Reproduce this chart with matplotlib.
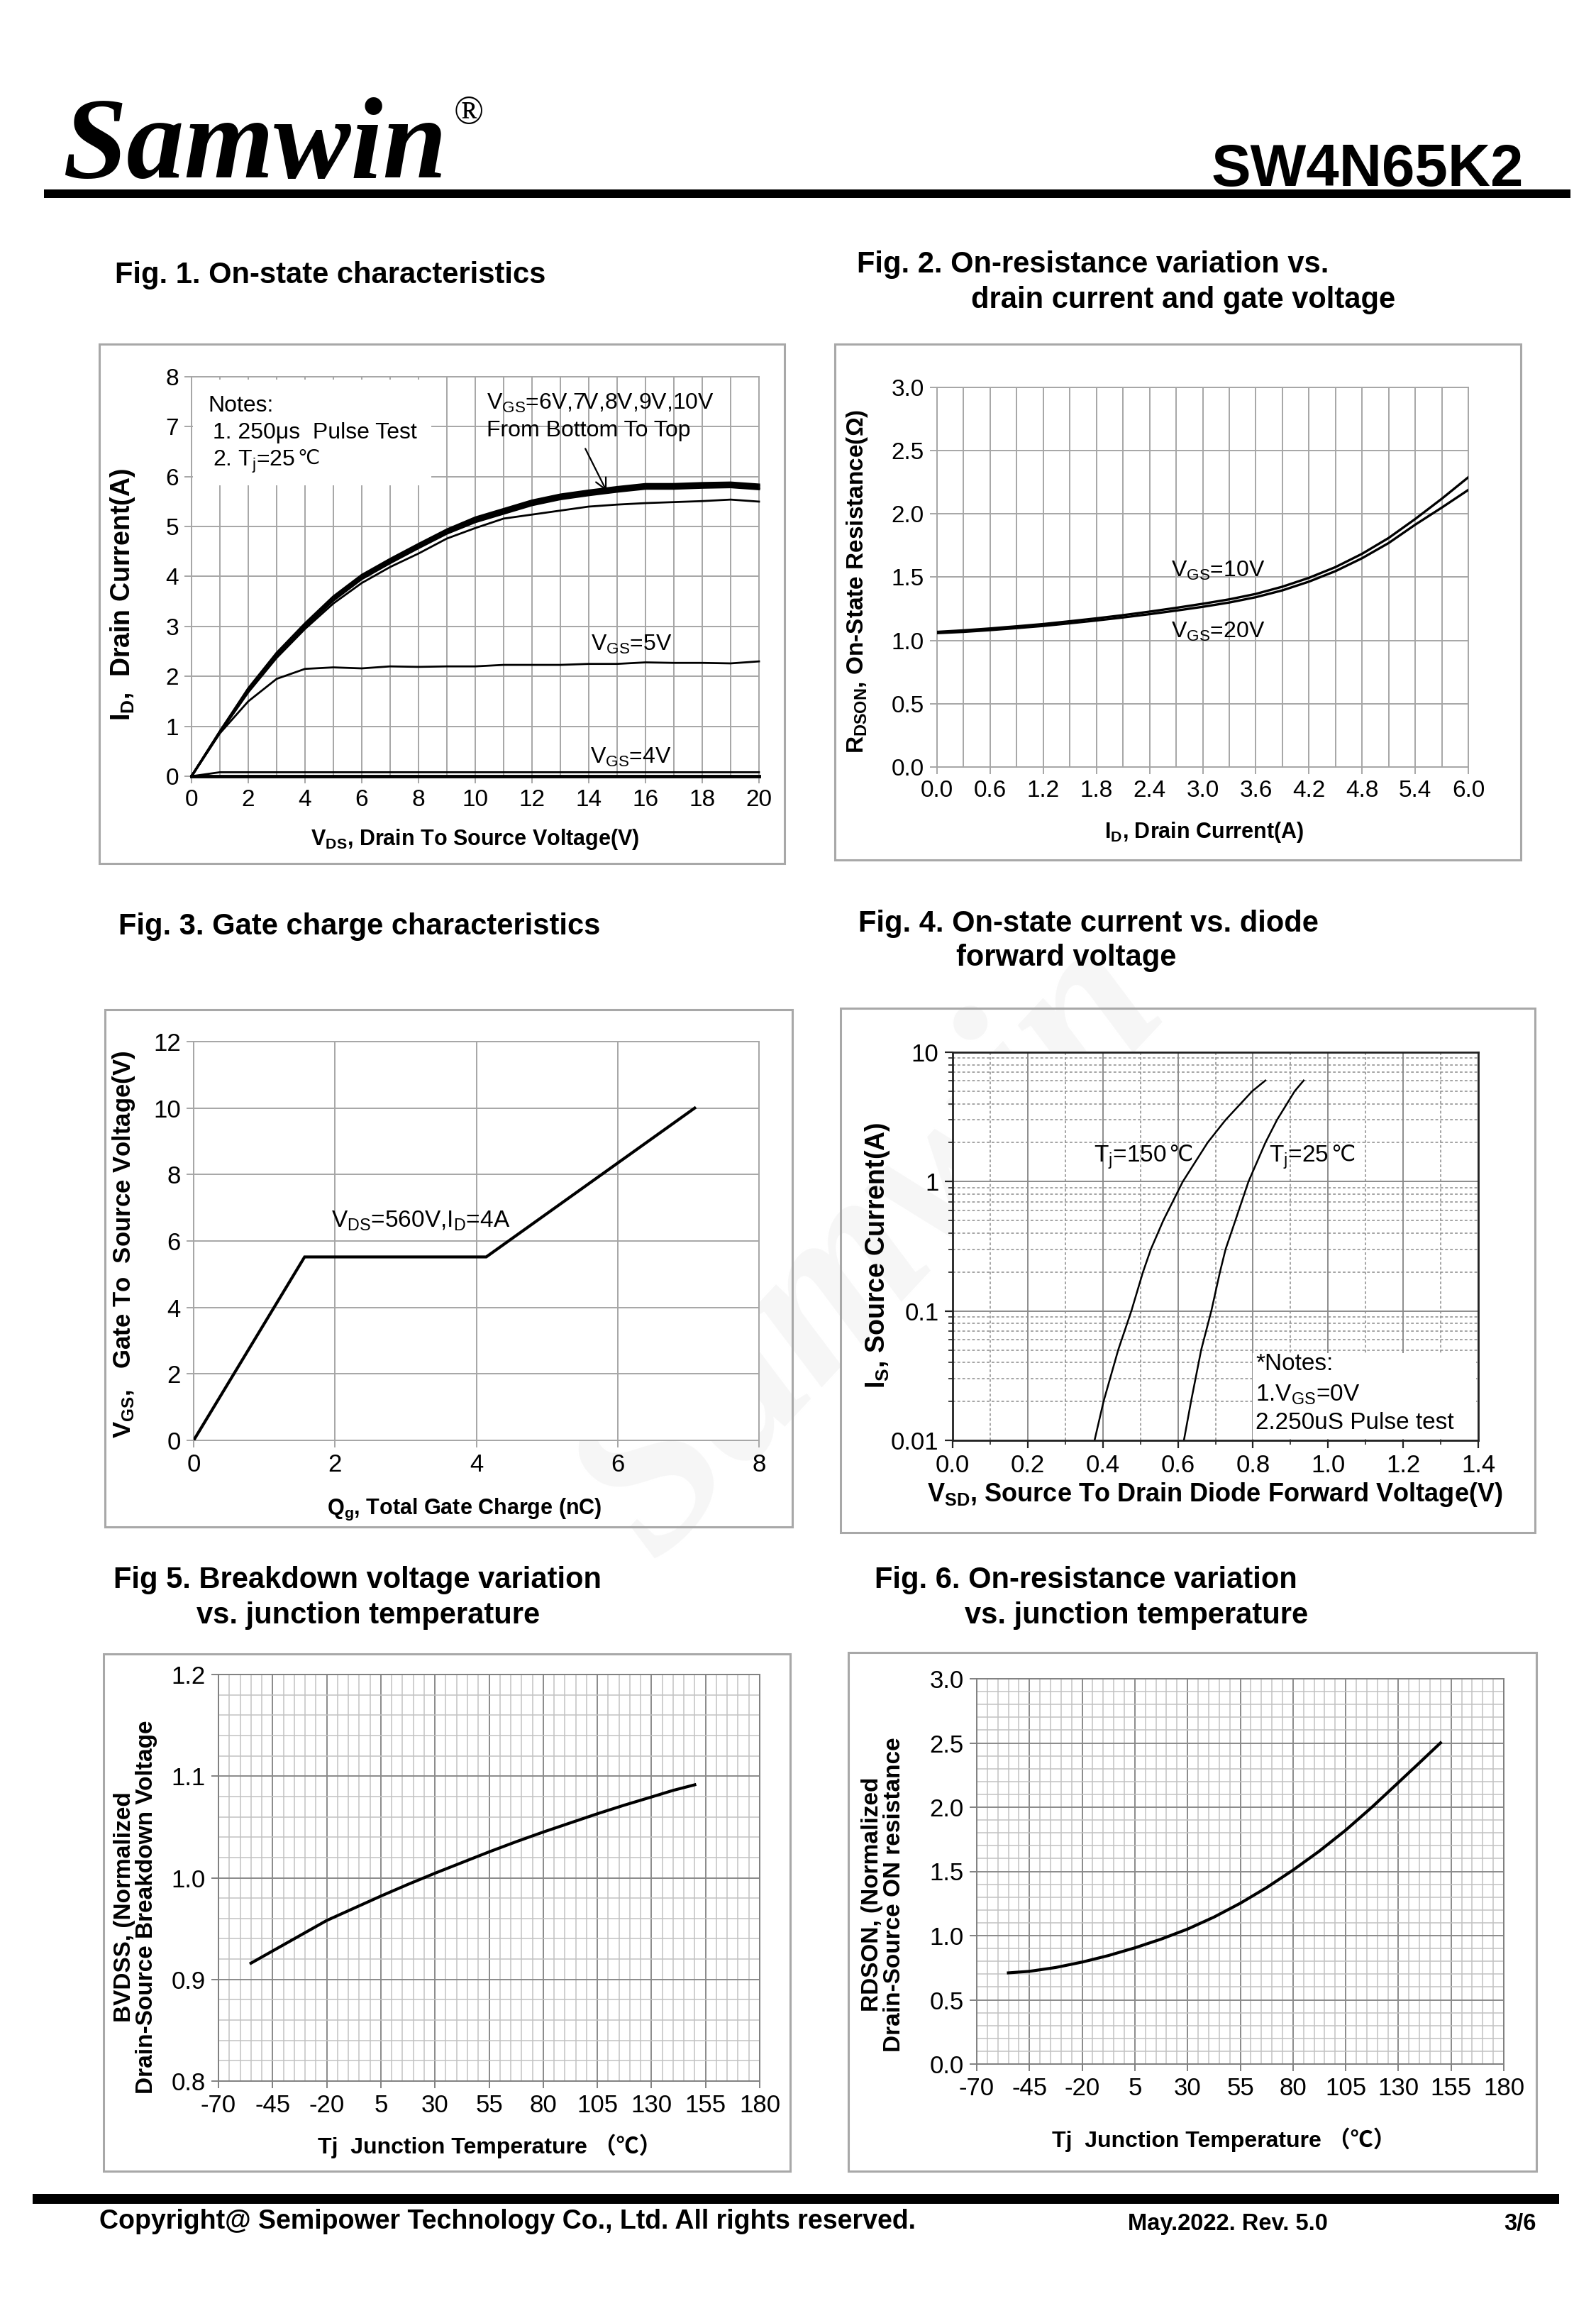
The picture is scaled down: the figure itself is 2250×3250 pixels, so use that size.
import matplotlib
matplotlib.use("Agg")
import matplotlib.pyplot as plt
from matplotlib.patches import Rectangle
from matplotlib.ticker import (MultipleLocator, FixedLocator, FixedFormatter,
                               FormatStrFormatter, LogLocator, NullFormatter)

# ------------------------------------------------------------------ data
# Fig. 1  On-state characteristics
vds = [0, 1, 2, 3, 4, 5, 6, 7, 8, 9, 10, 11, 12, 13, 14, 15, 16, 17, 18, 19, 20]
id_vgs10 = [0, 0.90, 1.76, 2.47, 3.06, 3.60, 4.03, 4.35, 4.65, 4.94, 5.18, 5.35, 5.52, 5.64, 5.72, 5.79, 5.85, 5.85, 5.87, 5.88, 5.84]
id_vgs9 = [0, 0.89, 1.74, 2.44, 3.03, 3.57, 4.00, 4.32, 4.62, 4.91, 5.15, 5.32, 5.49, 5.61, 5.69, 5.76, 5.82, 5.82, 5.84, 5.85, 5.81]
id_vgs8 = [0, 0.89, 1.72, 2.42, 3.01, 3.55, 3.98, 4.30, 4.60, 4.89, 5.12, 5.29, 5.46, 5.58, 5.66, 5.73, 5.79, 5.79, 5.81, 5.82, 5.78]
id_vgs7 = [0, 0.88, 1.70, 2.40, 2.99, 3.52, 3.95, 4.27, 4.57, 4.86, 5.09, 5.26, 5.43, 5.55, 5.63, 5.70, 5.76, 5.76, 5.78, 5.79, 5.75]
id_vgs6 = [0, 0.87, 1.68, 2.37, 2.95, 3.46, 3.87, 4.19, 4.46, 4.76, 4.97, 5.16, 5.24, 5.32, 5.40, 5.44, 5.47, 5.49, 5.51, 5.54, 5.50]
id_vgs5 = [0, 0.86, 1.50, 1.95, 2.15, 2.18, 2.16, 2.20, 2.19, 2.20, 2.20, 2.23, 2.23, 2.23, 2.25, 2.25, 2.28, 2.27, 2.27, 2.26, 2.30]
id_vgs4 = [0, 0.08, 0.08, 0.08, 0.08, 0.08, 0.08, 0.08, 0.08, 0.08, 0.08, 0.08, 0.08, 0.08, 0.08, 0.08, 0.08, 0.08, 0.08, 0.08, 0.08]
fig1_xticks = [0, 2, 4, 6, 8, 10, 12, 14, 16, 18, 20]
fig1_yticks = [0, 1, 2, 3, 4, 5, 6, 7, 8]

# Fig. 2  On-resistance vs drain current
id_a = [0.0, 0.3, 0.6, 0.9, 1.2, 1.5, 1.8, 2.1, 2.4, 2.7, 3.0, 3.3, 3.6, 3.9, 4.2, 4.5, 4.8, 5.1, 5.4, 5.7, 6.0]
rds_vgs10 = [1.068, 1.080, 1.095, 1.112, 1.130, 1.152, 1.175, 1.200, 1.228, 1.258, 1.290, 1.325, 1.368, 1.425, 1.495, 1.580, 1.685, 1.810, 1.960, 2.120, 2.290]
rds_vgs20 = [1.058, 1.068, 1.082, 1.098, 1.115, 1.136, 1.158, 1.182, 1.208, 1.236, 1.266, 1.300, 1.342, 1.396, 1.465, 1.548, 1.650, 1.770, 1.915, 2.050, 2.190]
fig2_xticks = [0.0, 0.6, 1.2, 1.8, 2.4, 3.0, 3.6, 4.2, 4.8, 5.4, 6.0]
fig2_yticks = [0.0, 0.5, 1.0, 1.5, 2.0, 2.5, 3.0]

# Fig. 3  Gate charge
qg_nc = [0, 1.57, 4.14, 7.09]
vgs_v = [0, 5.52, 5.52, 10.0]
fig3_xticks = [0, 2, 4, 6, 8]
fig3_yticks = [0, 2, 4, 6, 8, 10, 12]

# Fig. 4  Diode forward characteristics
is_a = [0.01, 0.02, 0.05, 0.1, 0.2, 0.3, 0.5, 1.0, 2.0, 3.0, 5.0, 6.05]
vsd_150 = [0.378, 0.402, 0.441, 0.476, 0.507, 0.528, 0.561, 0.613, 0.679, 0.727, 0.798, 0.833]
vsd_25 = [0.616, 0.635, 0.662, 0.689, 0.712, 0.727, 0.753, 0.788, 0.833, 0.864, 0.911, 0.935]
fig4_xticks = [0.0, 0.2, 0.4, 0.6, 0.8, 1.0, 1.2, 1.4]
fig4_yticks = [0.01, 0.1, 1, 10]
fig4_ylabels = ["0.01", "0.1", "1", "10"]

# Fig. 5  Breakdown voltage vs Tj
tj5 = [-55, -45, -32.5, -20, -7.5, 5, 17.5, 30, 42.5, 55, 67.5, 80, 92.5, 105, 117.5, 130, 140, 150]
bvdss = [0.916, 0.928, 0.943, 0.958, 0.970, 0.982, 0.9935, 1.0045, 1.015, 1.0255, 1.0355, 1.045, 1.054, 1.063, 1.0715, 1.0795, 1.086, 1.0915]
tj_ticks = [-70, -45, -20, 5, 30, 55, 80, 105, 130, 155, 180]
fig5_yticks = [0.8, 0.9, 1.0, 1.1, 1.2]

# Fig. 6  On-resistance vs Tj
tj6 = [-55, -45, -32.5, -20, -7.5, 5, 17.5, 30, 42.5, 55, 67.5, 80, 92.5, 105, 117.5, 130, 140, 150]
rdson_norm = [0.710, 0.722, 0.752, 0.794, 0.845, 0.905, 0.973, 1.051, 1.144, 1.252, 1.374, 1.510, 1.658, 1.821, 2.001, 2.192, 2.346, 2.501]
fig6_yticks = [0.0, 0.5, 1.0, 1.5, 2.0, 2.5, 3.0]

# ------------------------------------------------------------------ setup
W, H = 2250, 3250
plt.rcParams['font.family'] = ['Liberation Sans', 'DejaVu Sans']
plt.rcParams['mathtext.fontset'] = 'custom'
plt.rcParams['mathtext.rm'] = 'Liberation Sans'
plt.rcParams['mathtext.bf'] = 'Liberation Sans:bold'
plt.rcParams['mathtext.it'] = 'Liberation Sans:italic'
plt.rcParams['axes.unicode_minus'] = False

fig = plt.figure(figsize=(W / 100, H / 100), dpi=100)
fig.patch.set_facecolor('white')

GRID = '#a6a6a6'
CJK = ['Liberation Sans', 'Noto Sans CJK SC', 'DejaVu Sans']


def fx(x):
    return x / W


def fy(y):
    return 1 - y / H


def ptext(x, y, s, **kw):
    return fig.text(fx(x), fy(y), s, **kw)


def bar(x0, y0, x1, y1, color='black'):
    fig.patches.append(Rectangle((fx(x0), fy(y1)), (x1 - x0) / W, (y1 - y0) / H,
                                 transform=fig.transFigure, facecolor=color,
                                 edgecolor='none', zorder=1))


def frame(x0, y0, x1, y1):
    fig.patches.append(Rectangle((fx(x0), fy(y1)), (x1 - x0) / W, (y1 - y0) / H,
                                 transform=fig.transFigure, fill=False,
                                 edgecolor='#a8a8a8', linewidth=2.2, zorder=1))


def make_ax(x0, y0, x1, y1):
    return fig.add_axes([fx(x0), fy(y1), (x1 - x0) / W, (y1 - y0) / H])


def style(ax, color=GRID, lw=1.4, labelsize=22):
    for s in ax.spines.values():
        s.set_color(color)
        s.set_linewidth(lw)
    ax.tick_params(which='major', direction='out', color=color, width=lw,
                   length=7, labelsize=labelsize, pad=6)
    ax.tick_params(which='minor', length=0)
    ax.set_axisbelow(True)


def celsius_after(ax, t, size):
    ax.annotate('℃', xy=(1, 0.62), xycoords=t, xytext=(2, 0),
                textcoords='offset points', ha='left', va='center',
                fontsize=size, family='DejaVu Sans', zorder=4)


# watermark (very faint, behind the charts)
ptext(1230, 1760, 'Samwin', fontsize=230, color='#f6f6f6', rotation=47,
      ha='center', va='center', family='Liberation Serif',
      weight='bold', style='italic', zorder=-5)

# ------------------------------------------------------------------ header / footer
ptext(88, 250, 'Samwin', fontsize=117, family='Liberation Serif',
      weight='bold', style='italic', va='baseline', ha='left')
ptext(640, 160, '®', fontsize=40, family='Liberation Serif', va='center', ha='left')
ptext(2148, 262, 'SW4N65K2', fontsize=60, weight='bold', va='baseline', ha='right')
bar(62, 267, 2214, 279)

bar(46, 3092, 2198, 3106)
ptext(140, 3131, 'Copyright@ Semipower Technology Co., Ltd. All rights reserved.',
      fontsize=27, weight='bold', va='center', ha='left')
ptext(1590, 3134, 'May.2022. Rev. 5.0', fontsize=23.5, weight='bold', va='center', ha='left')
ptext(2166, 3134, '3/6', fontsize=23.5, weight='bold', va='center', ha='right')

# ------------------------------------------------------------------ titles
TS = 30
ptext(162, 388, 'Fig. 1. On-state characteristics', fontsize=TS, weight='bold', va='center')
ptext(1208, 373, 'Fig. 2. On-resistance variation vs.', fontsize=TS, weight='bold', va='center')
ptext(1369, 423, 'drain current and gate voltage', fontsize=TS, weight='bold', va='center')
ptext(167, 1306, 'Fig. 3. Gate charge characteristics', fontsize=TS, weight='bold', va='center')
ptext(1210, 1302, 'Fig. 4. On-state current vs. diode', fontsize=TS, weight='bold', va='center')
ptext(1348, 1350, 'forward voltage', fontsize=TS, weight='bold', va='center')
ptext(160, 2227, 'Fig 5. Breakdown voltage variation', fontsize=TS, weight='bold', va='center')
ptext(277, 2277, 'vs. junction temperature', fontsize=TS, weight='bold', va='center')
ptext(1233, 2227, 'Fig. 6. On-resistance variation', fontsize=TS, weight='bold', va='center')
ptext(1360, 2277, 'vs. junction temperature', fontsize=TS, weight='bold', va='center')

# frames
frame(140, 485, 1106, 1217)
frame(1177, 485, 2144, 1212)
frame(148, 1423, 1117, 2152)
frame(1185, 1421, 2164, 2160)
frame(146, 2331, 1114, 3060)
frame(1196, 2329, 2166, 3060)

# ------------------------------------------------------------------ Fig. 1
ax1 = make_ax(270, 531, 1070, 1094)
ax1.set_xlim(0, 20)
ax1.set_ylim(0, 8)
ax1.xaxis.set_major_locator(FixedLocator(fig1_xticks))
ax1.xaxis.set_minor_locator(MultipleLocator(1))
ax1.yaxis.set_major_locator(FixedLocator(fig1_yticks))
style(ax1, labelsize=24)
ax1.grid(which='both', axis='x', color=GRID, lw=1.4)
ax1.grid(which='major', axis='y', color=GRID, lw=1.4)
ax1.spines['bottom'].set_color('black')
ax1.spines['bottom'].set_linewidth(3.5)
ax1.add_patch(Rectangle((0.05, 5.82), 8.4, 2.13, facecolor='white',
                        edgecolor='none', zorder=1.5))
for series, lw in ((id_vgs6, 2.0), (id_vgs7, 2.3), (id_vgs8, 2.3),
                   (id_vgs9, 2.3), (id_vgs10, 2.3), (id_vgs5, 2.0), (id_vgs4, 2.0)):
    ax1.plot(vds, series, color='black', lw=lw, zorder=3, clip_on=False)
ax1.text(0.58, 7.42, 'Notes:', fontsize=23, va='center', ha='left', zorder=4)
ax1.text(0.75, 6.88, '1. 250μs  Pulse Test', fontsize=23, va='center', ha='left', zorder=4)
t = ax1.text(0.75, 6.30, r'2. $\mathregular{T_j}$=25', fontsize=23, va='center', ha='left', zorder=4)
celsius_after(ax1, t, 20)
ax1.text(10.39, 7.47, r'$\mathregular{V_{GS}}$=6V,7V,8V,9V,10V', fontsize=23, va='center', ha='left', zorder=4)
ax1.text(10.39, 6.92, 'From Bottom To Top', fontsize=23, va='center', ha='left', zorder=4)
ax1.annotate('', xy=(14.63, 5.71), xytext=(13.88, 6.56),
             arrowprops=dict(arrowstyle='->', color='black', lw=1.6,
                             mutation_scale=28, shrinkA=0, shrinkB=0), zorder=4)
ax1.text(14.08, 2.63, r'$\mathregular{V_{GS}}$=5V', fontsize=23, va='center', ha='left', zorder=4)
ax1.text(14.04, 0.38, r'$\mathregular{V_{GS}}$=4V', fontsize=23, va='center', ha='left', zorder=4)
ptext(173, 838, r'$\mathbf{I_D}$,  Drain Current(A)', fontsize=27, weight='bold',
      rotation=90, ha='center', va='center')
ptext(670, 1183, r'$\mathbf{V_{DS}}$, Drain To Source Voltage(V)', fontsize=22,
      weight='bold', ha='center', va='center')

# ------------------------------------------------------------------ Fig. 2
ax2 = make_ax(1321, 546, 2070, 1081)
ax2.set_xlim(0, 6)
ax2.set_ylim(0, 3)
ax2.xaxis.set_major_locator(FixedLocator(fig2_xticks))
ax2.xaxis.set_minor_locator(MultipleLocator(0.3))
ax2.yaxis.set_major_locator(FixedLocator(fig2_yticks))
ax2.xaxis.set_major_formatter(FormatStrFormatter('%.1f'))
ax2.yaxis.set_major_formatter(FormatStrFormatter('%.1f'))
style(ax2, labelsize=24)
ax2.grid(which='both', axis='x', color=GRID, lw=1.4)
ax2.grid(which='major', axis='y', color=GRID, lw=1.4)
ax2.plot(id_a, rds_vgs10, color='black', lw=2.4, zorder=3)
ax2.plot(id_a, rds_vgs20, color='black', lw=2.4, zorder=3)
ax2.text(2.64, 1.55, r'$\mathregular{V_{GS}}$=10V', fontsize=23, va='center', ha='left')
ax2.text(2.64, 1.07, r'$\mathregular{V_{GS}}$=20V', fontsize=23, va='center', ha='left')
ptext(1208, 819, r'$\mathbf{R_{DSON}}$, On-State Resistance(Ω)', fontsize=24,
      weight='bold', rotation=90, ha='center', va='center')
ptext(1698, 1173, r'$\mathbf{I_D}$, Drain Current(A)', fontsize=22, weight='bold',
      ha='center', va='center')

# ------------------------------------------------------------------ Fig. 3
ax3 = make_ax(273, 1468, 1070, 2030)
ax3.set_xlim(0, 8)
ax3.set_ylim(0, 12)
ax3.xaxis.set_major_locator(FixedLocator(fig3_xticks))
ax3.yaxis.set_major_locator(FixedLocator(fig3_yticks))
style(ax3, labelsize=25)
ax3.grid(which='major', color=GRID, lw=1.4)
ax3.plot(qg_nc, vgs_v, color='black', lw=3.0, zorder=3, solid_joinstyle='miter')
ax3.text(1.95, 6.6, r'$\mathregular{V_{DS}}$=560V,$\mathregular{I_D}$=4A', fontsize=24,
         va='center', ha='left')
ptext(175, 1754, r'$\mathbf{V_{GS}}$,   Gate To  Source Voltage(V)', fontsize=25,
      weight='bold', rotation=90, ha='center', va='center')
ptext(655, 2127, r'$\mathbf{Q_g}$, Total Gate Charge (nC)', fontsize=22, weight='bold',
      ha='center', va='center')

# ------------------------------------------------------------------ Fig. 4
ax4 = make_ax(1343, 1483, 2084, 2030)
ax4.set_yscale('log')
ax4.set_xlim(0, 1.4)
ax4.set_ylim(0.01, 10)
ax4.xaxis.set_major_locator(FixedLocator(fig4_xticks))
ax4.xaxis.set_minor_locator(MultipleLocator(0.1))
ax4.xaxis.set_major_formatter(FormatStrFormatter('%.1f'))
ax4.yaxis.set_major_locator(FixedLocator(fig4_yticks))
ax4.yaxis.set_major_formatter(FixedFormatter(fig4_ylabels))
ax4.yaxis.set_minor_locator(LogLocator(base=10, subs=(2, 3, 4, 5, 6, 7, 8, 9)))
ax4.yaxis.set_minor_formatter(NullFormatter())
for s in ax4.spines.values():
    s.set_color('#222222')
    s.set_linewidth(2.0)
ax4.tick_params(which='major', direction='out', color='#222222', width=1.6,
                length=8, labelsize=25, pad=6)
ax4.tick_params(which='minor', direction='out', color='#222222', width=1.2, length=4)
ax4.set_axisbelow(True)
ax4.grid(which='major', color='#8c8c8c', lw=1.4)
ax4.grid(which='minor', color='#8c8c8c', lw=1.1, linestyle=(0, (2.5, 2.0)))
ax4.add_patch(Rectangle((0.80, 0.0103), 0.595, 0.0367, facecolor='white',
                        edgecolor='none', zorder=1.5))
ax4.plot(vsd_150, is_a, color='black', lw=1.8, zorder=3)
ax4.plot(vsd_25, is_a, color='black', lw=1.8, zorder=3)
t = ax4.text(0.376, 1.53, r'$\mathregular{T_j}$=150', fontsize=24, va='center', ha='left', zorder=4)
celsius_after(ax4, t, 22)
t = ax4.text(0.843, 1.53, r'$\mathregular{T_j}$=25', fontsize=24, va='center', ha='left', zorder=4)
celsius_after(ax4, t, 22)
ax4.text(0.807, 0.039, '*Notes:', fontsize=24, va='center', ha='left', zorder=4)
ax4.text(0.807, 0.0224, r'1.$\mathregular{V_{GS}}$=0V', fontsize=24, va='center', ha='left', zorder=4)
ax4.text(0.807, 0.0136, '2.250uS Pulse test', fontsize=24, va='center', ha='left', zorder=4)
ptext(1237, 1769, r'$\mathbf{I_S}$, Source Current(A)', fontsize=27, weight='bold',
      rotation=90, ha='center', va='center')
ptext(1713, 2106, r'$\mathbf{V_{SD}}$, Source To Drain Diode Forward Voltage(V)',
      fontsize=26, weight='bold', ha='center', va='center')

# ------------------------------------------------------------------ Fig. 5
ax5 = make_ax(308, 2360, 1071, 2933)
ax5.set_xlim(-70, 180)
ax5.set_ylim(0.8, 1.2)
ax5.xaxis.set_major_locator(FixedLocator(tj_ticks))
ax5.xaxis.set_minor_locator(MultipleLocator(5))
ax5.yaxis.set_major_locator(FixedLocator(fig5_yticks))
ax5.yaxis.set_minor_locator(MultipleLocator(0.02))
ax5.yaxis.set_major_formatter(FormatStrFormatter('%.1f'))
style(ax5, color='#808080', labelsize=25)
ax5.grid(which='major', color='#8a8a8a', lw=1.4)
ax5.grid(which='minor', color='#c2c2c2', lw=1.1)
ax5.plot(tj5, bvdss, color='black', lw=3.0, zorder=3)
ptext(191, 2688, 'BVDSS, (Normalized\nDrain-Source Breakdown Voltage', fontsize=24,
      weight='bold', rotation=90, ha='center', va='center', multialignment='center',
      linespacing=1.0)
ptext(690, 3025, 'Tj  Junction Temperature （℃）', fontsize=23, weight='bold',
      ha='center', va='center', family=CJK)

# ------------------------------------------------------------------ Fig. 6
ax6 = make_ax(1377, 2366, 2120, 2909)
ax6.set_xlim(-70, 180)
ax6.set_ylim(0, 3)
ax6.xaxis.set_major_locator(FixedLocator(tj_ticks))
ax6.xaxis.set_minor_locator(MultipleLocator(5))
ax6.yaxis.set_major_locator(FixedLocator(fig6_yticks))
ax6.yaxis.set_minor_locator(MultipleLocator(0.1))
ax6.yaxis.set_major_formatter(FormatStrFormatter('%.1f'))
style(ax6, color='#808080', labelsize=25)
ax6.grid(which='major', color='#8a8a8a', lw=1.4)
ax6.grid(which='minor', color='#c2c2c2', lw=1.1)
ax6.plot(tj6, rdson_norm, color='black', lw=3.0, zorder=3)
ptext(1245, 2670, 'RDSON, (Normalized\nDrain-Source ON resistance', fontsize=24,
      weight='bold', rotation=90, ha='center', va='center', multialignment='center',
      linespacing=1.0)
ptext(1725, 3016, 'Tj  Junction Temperature （℃）', fontsize=23, weight='bold',
      ha='center', va='center', family=CJK)

fig.savefig('out.png', dpi=100, facecolor='white')
